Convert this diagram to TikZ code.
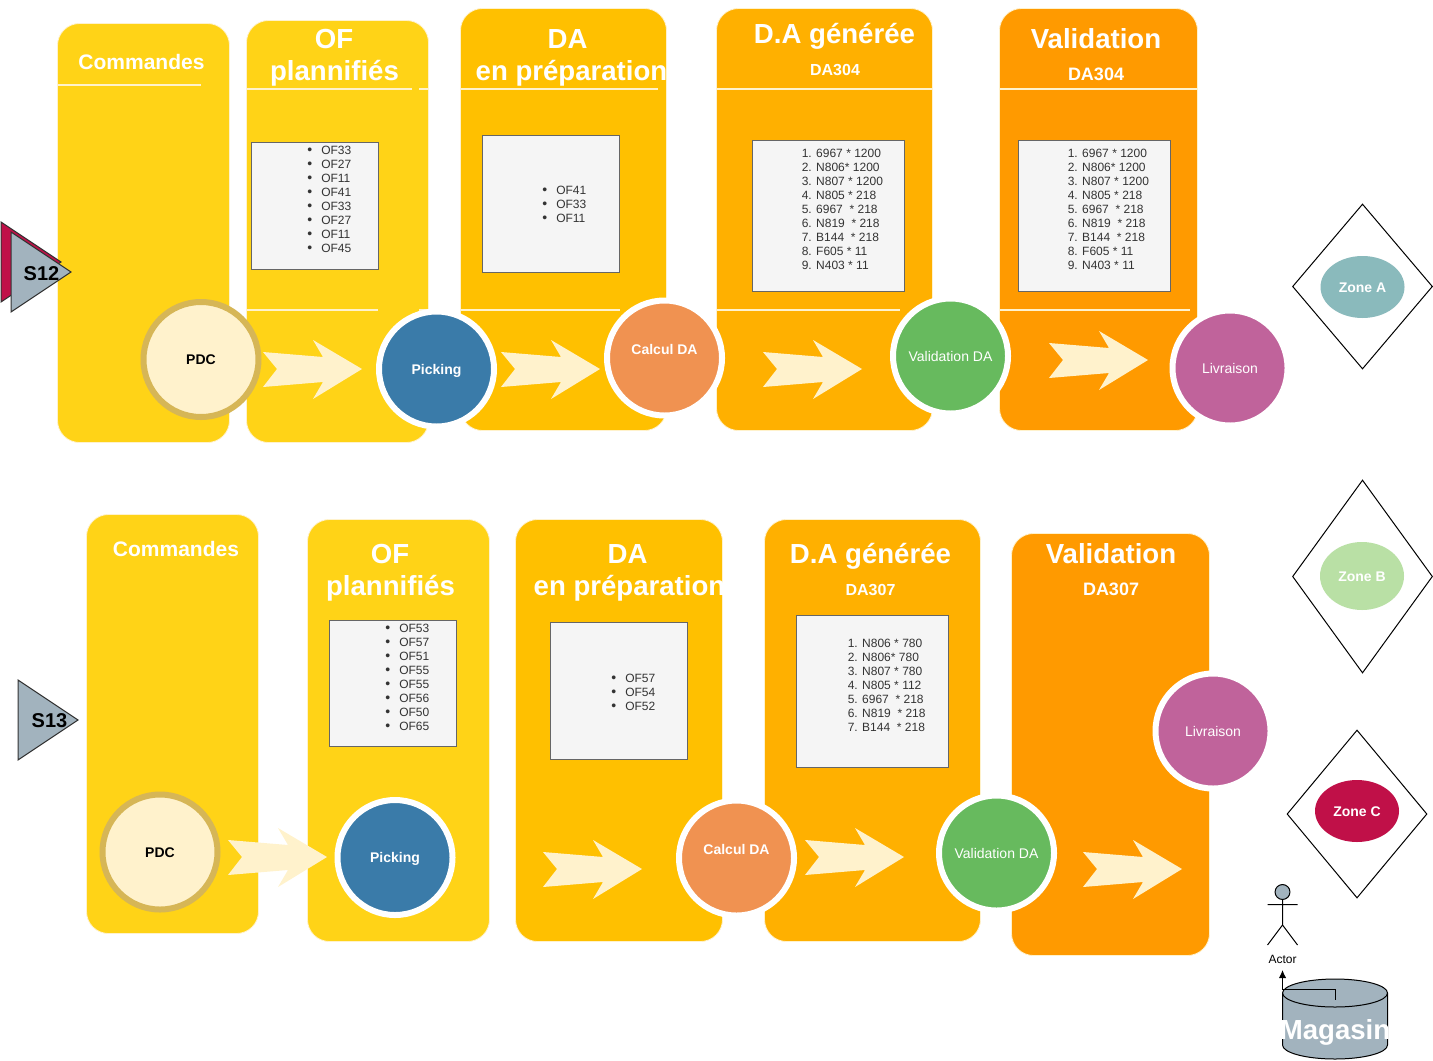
\documentclass[tikz,border=0pt]{standalone}
\usepackage{fontspec}
\setmainfont{Liberation Sans}
\usetikzlibrary{shapes.geometric,arrows.meta}
\definecolor{JAUNE}{HTML}{FFD317}
\definecolor{AMBRE}{HTML}{FFC000}
\definecolor{SAFRAN}{HTML}{FFB000}
\definecolor{ORANGE}{HTML}{FF9A00}
\definecolor{CREME}{HTML}{FFF2CC}
\definecolor{SABLE}{HTML}{D6B656}
\definecolor{BLEU}{HTML}{3A7BA9}
\definecolor{CORAIL}{HTML}{F09251}
\definecolor{VERT}{HTML}{67BA5E}
\definecolor{MAUVE}{HTML}{C0639B}
\definecolor{TURQUOISE}{HTML}{8ABABC}
\definecolor{TILLEUL}{HTML}{B9E0A5}
\definecolor{CARMIN}{HTML}{C01048}
\definecolor{ARDOISE}{HTML}{A2B3BE}
\tikzset{
COLONNE/.style={draw=CREME,line width=0.6pt,fill=#1,rounded corners=16.5pt},
TRAIT/.style={draw=CREME,line width=1.5pt},
FLECHE/.style={draw=none,fill=CREME},
BOITE/.style={draw=black!60,line width=0.75pt,fill=black!4},
LISTE/.style={font=\fontsize{9}{10.5}\selectfont,text=black!80,align=left,anchor=west,inner sep=0pt},
TITRE/.style={font=\bfseries\fontsize{20.7}{24}\selectfont,text=white,align=center,anchor=base,inner sep=0pt},
MOYEN/.style={font=\bfseries\fontsize{15.75}{18}\selectfont,text=white,anchor=base,inner sep=0pt},
PETIT/.style={font=\bfseries\fontsize{#1}{14}\selectfont,text=white,anchor=base,inner sep=0pt},
PETIT/.default=12,
ROND/.style={circle,draw=white,line width=4.5pt,fill=#1,minimum size=86.25pt,inner sep=0pt,align=center,text=white,font=\fontsize{10.5}{12.75}\selectfont,text height=9pt,text depth=1pt},
GRAS/.style={font=\bfseries\fontsize{10.5}{12.75}\selectfont},
LOSANGE/.style={diamond,draw=black,line width=0.75pt,fill=white,inner sep=0pt},
ZONE/.style={ellipse,draw=none,fill=#1,minimum width=63pt,inner sep=0pt,text=white,font=\bfseries\fontsize{10.5}{12.75}\selectfont,text height=9pt,text depth=1pt},
POINTE/.style={draw=black!80,line width=0.75pt,fill=#1},
SEMAINE/.style={font=\bfseries\fontsize{15}{18}\selectfont,anchor=base,inner sep=0pt},
}
\newcommand{\PUCE}[1]{\makebox[10.5pt][l]{\fontsize{10.5}{10.5}\selectfont\textbullet}#1}
\begin{document}
\begin{tikzpicture}
[x=0.75pt, y=-0.75pt]
	\useasboundingbox (0,0) rectangle (1433,1060);
	% colonnes
	\foreach \xa/\ya/\xb/\yb/\coul in {57.5/23.5/229.5/442.5/JAUNE,246.5/20.5/428.5/442.5/JAUNE,460.5/8.5/666.5/430.5/AMBRE,716.5/8.5/932.5/430.5/SAFRAN,999.5/8.5/1197.5/430.5/ORANGE,
	86.5/514.5/258.5/933.5/JAUNE,307.5/519.5/489.5/941.5/JAUNE,515.5/519.5/722.5/941.5/AMBRE,764.5/519.5/980.5/941.5/SAFRAN,1011.5/533.5/1209.5/955.5/ORANGE} {
	\path[COLONNE=\coul] (\xa,\ya) rectangle (\xb,\yb);}
	\foreach \xa/\xb/\yy in {58/201/84.5,247/412/89,419/428/89,461/658/89,717/932/89,1000/1197/89,
	247/378/309.5,419/428/309.5,461/620/309.5,717/900/309.5,1000/1190/309.5} {
	\path[TRAIT] (\xa,\yy) -- (\xb,\yy);}
	% fleches
	\foreach \xx/\yy in {263/369,501/369,763/369,1049/360,228/857,543/869,805/857,1083/869} {
	\path[FLECHE, shift={(\xx,\yy)}] (0,-17) -- (60,-12) -- (50,-29) -- (99,0) -- (50,30) -- (60,13) -- (0,18) -- (14,0) -- cycle;}
	% titres
	\node[MOYEN] (cmdA) at (141.5,69) {Commandes};
	\node[TITRE] (ofA) at (334,48.5) {OF};
	\node[TITRE] (ofAb) at (334.5,80) {plannifiés};
	\node[TITRE] (daA) at (567.5,48.5) {DA};
	\node[TITRE] (daAb) at (571.5,80) {en préparation};
	\node[TITRE] (genA) at (834.5,43.5) {D.A générée};
	\node[PETIT] (numA) at (835,75) {DA304};
	\node[TITRE] (valA) at (1096,48.5) {Validation};
	\node[PETIT=13.5] (numAb) at (1096,80) {DA304};
	\node[MOYEN] (cmdB) at (176,556) {Commandes};
	\node[TITRE] (ofB) at (390,563.5) {OF};
	\node[TITRE] (ofBb) at (390.5,595.5) {plannifiés};
	\node[TITRE] (daB) at (627.5,563.5) {DA};
	\node[TITRE] (daBb) at (629.5,595.5) {en préparation};
	\node[TITRE] (genB) at (870.5,563.5) {D.A générée};
	\node[PETIT] (numB) at (870.5,595) {DA307};
	\node[TITRE] (valB) at (1111,563.5) {Validation};
	\node[PETIT=13.5] (numBb) at (1111,595) {DA307};
	% boites
	\foreach \xa/\ya/\xb/\yb in {251.5/142/378.5/269,482/135/619/272,752.5/140/904.5/291.5,1018.5/140/1170.5/291.5,
	329.5/620/456.5/746.5,550.5/622.5/687.5/759.5,796.5/615/948.5/767} {
	\path[BOITE] (\xa,\ya) rectangle (\xb,\yb);}
	\node[LISTE] (listeA) at (307,199) {\PUCE{OF33}\\\PUCE{OF27}\\\PUCE{OF11}\\\PUCE{OF41}\\\PUCE{OF33}\\\PUCE{OF27}\\\PUCE{OF11}\\\PUCE{OF45}};
	\node[LISTE] (listeB) at (542,204) {\PUCE{OF41}\\\PUCE{OF33}\\\PUCE{OF11}};
	\node[LISTE] (listeC) at (801.5,209) {1. 6967 * 1200\\2. N806* 1200\\3. N807 * 1200\\4. N805 * 218\\5. 6967~ * 218\\6. N819~ * 218\\7. B144~ * 218\\8. F605 * 11\\9. N403 * 11};
	\node[LISTE] (listeD) at (1067.5,209) {1. 6967 * 1200\\2. N806* 1200\\3. N807 * 1200\\4. N805 * 218\\5. 6967~ * 218\\6. N819~ * 218\\7. B144~ * 218\\8. F605 * 11\\9. N403 * 11};
	\node[LISTE] (listeE) at (385,677) {\PUCE{OF53}\\\PUCE{OF57}\\\PUCE{OF51}\\\PUCE{OF55}\\\PUCE{OF55}\\\PUCE{OF56}\\\PUCE{OF50}\\\PUCE{OF65}};
	\node[LISTE] (listeF) at (611,692) {\PUCE{OF57}\\\PUCE{OF54}\\\PUCE{OF52}};
	\node[LISTE] (listeG) at (847.5,685) {1. N806 * 780\\2. N806* 780\\3. N807 * 780\\4. N805 * 112\\5. 6967~ * 218\\6. N819~ * 218\\7. B144~ * 218};
	% ronds
	\node[ROND=CREME,draw=SABLE,text=black,GRAS] (pdcA) at (201,359.5) {PDC};
	\node[ROND=BLEU,GRAS] (pickA) at (436.5,369) {Picking};
	\node[ROND=CORAIL,GRAS,text height=,text depth=] (calcA) at (664.5,358) {Calcul DA\\~};
	\node[ROND=VERT] (validA) at (950.5,356) {Validation DA};
	\node[ROND=MAUVE] (livA) at (1230,368) {Livraison};
	\node[ROND=CREME,draw=SABLE,text=black,GRAS] (pdcB) at (160,852) {PDC};
	\node[ROND=BLEU,GRAS] (pickB) at (395,857.5) {Picking};
	\node[ROND=CORAIL,GRAS,text height=,text depth=] (calcB) at (736.5,858) {Calcul DA\\~};
	\node[ROND=VERT] (validB) at (996.5,853) {Validation DA};
	\node[ROND=MAUVE] (livB) at (1213,731) {Livraison};
	% zones
	\node[LOSANGE,minimum width=105pt,minimum height=123.75pt] (losA) at (1362.5,286.5) {};
	\node[LOSANGE,minimum width=105pt,minimum height=144.75pt] (losB) at (1362.5,576.5) {};
	\node[LOSANGE,minimum width=105pt,minimum height=126pt] (losC) at (1357,814) {};
	\node[ZONE=TURQUOISE,minimum height=46.5pt] (zoneA) at (1362.5,287) {Zone A};
	\node[ZONE=TILLEUL,minimum height=51pt] (zoneB) at (1362,576) {Zone B};
	\node[ZONE=CARMIN,minimum height=46.5pt] (zoneC) at (1357,811) {Zone C};
	% semaines
	\path[POINTE=CARMIN] (1,222) -- (61,262) -- (1,302) -- cycle;
	\path[POINTE=ARDOISE] (11,232) -- (71,272) -- (11,312) -- cycle;
	\path[POINTE=ARDOISE] (18,680) -- (78,720) -- (18,760) -- cycle;
	\node[SEMAINE] (semA) at (41.5,280) {S12};
	\node[SEMAINE] (semB) at (49.5,727) {S13};
	% actor
	\path[POINTE=ARDOISE,draw=black] (1282.5,892) circle (5.6pt);
	\draw[line width=0.75pt] (1282.5,900) -- (1282.5,925) -- (1267.5,945) (1282.5,925) -- (1297.5,945) (1267.5,904.5) -- (1297.5,904.5);
	\node[anchor=south,inner xsep=0pt,inner ysep=0pt,text depth=4.5pt,font=\fontsize{9}{10.5}\selectfont] (acteur) at (1282.5,970) {Actor};
	% magasin
	\path[POINTE=ARDOISE,draw=black] (1282.5,993) -- (1282.5,1045) arc[start angle=180,end angle=360,x radius=52.5,y radius=-14] -- (1387.5,993) arc[start angle=0,end angle=180,x radius=52.5,y radius=-14] -- cycle;
	\draw[line width=0.75pt] (1282.5,993) arc[start angle=180,end angle=360,x radius=52.5,y radius=-14];
	\node[TITRE] (magasin) at (1335,1039) {Magasin};
	\coordinate (magasintop) at (1335,999.5);
	\draw[line width=0.75pt,-{Latex[length=6pt,width=5.5pt]}] (magasintop) -- ++(0,-10.5) -| (acteur.south);
\end{tikzpicture}
\end{document}
